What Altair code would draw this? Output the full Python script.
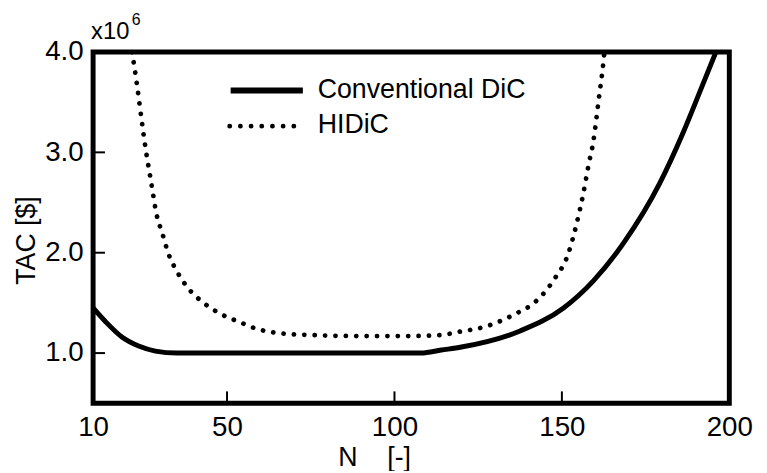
import altair as alt
import pandas as pd

# Conventional DiC
conv_n = [10, 13.8, 18.6, 23.6, 28.6, 35, 50, 80, 108, 114, 120, 137.5, 150.5, 159.4, 168.5, 179.2, 186, 192, 196]
conv_tac = [1.45, 1.31, 1.16, 1.07, 1.02, 1.0, 1.0, 1.0, 1.0, 1.03, 1.06, 1.22, 1.45, 1.72, 2.1, 2.69, 3.18, 3.67, 4.0]

# HIDiC
hidic_n = [21.6, 22.1, 25.9, 27.4, 28.9, 30.7, 32.4, 35.1, 38.3, 43.0, 48.1, 53.7, 59.0, 65.2, 75, 90,
           105, 114, 119, 127.8, 133.7, 136.7, 141.7, 147.6, 152, 154.4, 156.4, 158, 159.4, 160.9, 162.4, 162.7]
hidic_tac = [4.0, 3.90, 2.99, 2.69, 2.39, 2.19, 2.0, 1.81, 1.65, 1.50, 1.39, 1.31, 1.24, 1.20, 1.18, 1.17,
             1.17, 1.18, 1.21, 1.27, 1.35, 1.40, 1.50, 1.73, 2.0, 2.29, 2.59, 2.88, 3.11, 3.50, 3.90, 4.0]

series_names = ["Conventional DiC", "HIDiC"]
x_tick_labels = [10, 50, 100, 150, 200]
y_tick_labels = [1.0, 2.0, 3.0, 4.0]
x_inner_ticks = [50, 100, 150]
y_inner_ticks = [1.0, 2.0, 3.0]

W, H = 643, 355
FONT = "Liberation Sans"

conv_df = pd.DataFrame({"N": conv_n, "TAC": conv_tac})
hidic_df = pd.DataFrame({"N": hidic_n, "TAC": hidic_tac})

xs = alt.Scale(domain=[10, 200], nice=False, zero=False)
ys = alt.Scale(domain=[0.5, 4.0], nice=False, zero=False)

x_axis = alt.Axis(values=x_tick_labels, title="N\u00a0\u00a0\u00a0\u00a0[-]", domain=False, ticks=False, grid=False,
                  labelFontSize=28, labelFont=FONT, labelColor="black", labelPadding=11, labelFlush=False,
                  labelOverlap=False,
                  titleFontSize=27, titleFont=FONT, titleFontWeight="normal", titleColor="black",
                  titleX=284, titleY=63, titleAlign="center", titleBaseline="alphabetic", titleAnchor="start")
y_axis = alt.Axis(values=y_tick_labels, format=".1f", title="TAC [$]", domain=False, ticks=False, grid=False,
                  labelFontSize=28, labelFont=FONT, labelColor="black", labelPadding=10, labelFlush=False,
                  labelOverlap=False,
                  titleFontSize=27, titleFont=FONT, titleFontWeight="normal", titleColor="black",
                  titleX=-67, titleY=190, titleAlign="center", titleBaseline="middle", titleAngle=270,
                  titleAnchor="start")

conv_line = alt.Chart(conv_df).mark_line(color="black", strokeWidth=5, clip=True, interpolate="monotone").encode(
    x=alt.X("N:Q", scale=xs, axis=x_axis),
    y=alt.Y("TAC:Q", scale=ys, axis=y_axis),
)
hidic_line = alt.Chart(hidic_df).mark_line(color="black", strokeWidth=4.8, strokeDash=[0.1, 10.4],
                                           strokeCap="round", clip=True, interpolate="monotone").encode(
    x=alt.X("N:Q", scale=xs),
    y=alt.Y("TAC:Q", scale=ys),
)

xt = alt.Chart(pd.DataFrame({"v": x_inner_ticks})).mark_rule(color="black", strokeWidth=2).encode(
    x=alt.X("v:Q", scale=xs), y=alt.value(H), y2=alt.value(H - 12))
yt = alt.Chart(pd.DataFrame({"v": y_inner_ticks})).mark_rule(color="black", strokeWidth=2).encode(
    y=alt.Y("v:Q", scale=ys), x=alt.value(0), x2=alt.value(12))

# legend
leg1_line = alt.Chart(pd.DataFrame({"s": [series_names[0]]})).mark_rule(color="black", strokeWidth=6).encode(
    x=alt.value(139), x2=alt.value(212), y=alt.value(39))
leg2_line = alt.Chart(pd.DataFrame({"s": [series_names[1]]})).mark_rule(
    color="black", strokeWidth=4.8, strokeDash=[0.1, 10.7], strokeCap="round").encode(
    x=alt.value(138), x2=alt.value(204), y=alt.value(75))
leg_text = alt.Chart(pd.DataFrame({"s": series_names, "row": [38, 74]})).mark_text(
    align="left", baseline="middle", fontSize=27, font=FONT, color="black").encode(
    x=alt.value(227), y=alt.Y("row:Q", scale=None), text="s:N")

# multiplier
mult = alt.Chart(pd.DataFrame({"t": ["x10"]})).mark_text(
    align="left", baseline="alphabetic", fontSize=24, font=FONT, color="black").encode(
    x=alt.value(-2), y=alt.value(-13), text="t:N")
mult_exp = alt.Chart(pd.DataFrame({"t": ["6"]})).mark_text(
    align="left", baseline="alphabetic", fontSize=16, font=FONT, color="black").encode(
    x=alt.value(39), y=alt.value(-27), text="t:N")

chart = alt.layer(conv_line, hidic_line, xt, yt, leg1_line, leg2_line, leg_text, mult, mult_exp).properties(
    width=W, height=H,
    background="white",
    padding={"left": 86, "top": 42, "right": 30, "bottom": 66},
    autosize=alt.AutoSizeParams(type="none"),
).configure_view(stroke="black", strokeWidth=5)

chart.save("out.html", embed_options={"renderer": "svg", "actions": False})
